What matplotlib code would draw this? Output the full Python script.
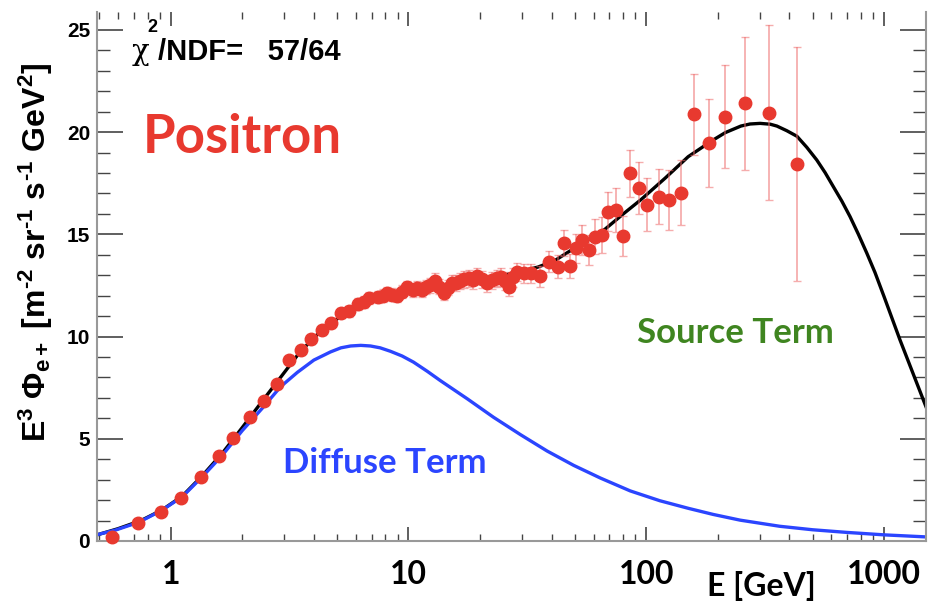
import numpy as np
import matplotlib.pyplot as plt
from matplotlib.ticker import LogLocator, NullFormatter, MultipleLocator

plt.rcParams['font.family'] = ['Liberation Sans', 'DejaVu Sans']
plt.rcParams['mathtext.fontset'] = 'custom'
plt.rcParams['mathtext.rm'] = 'Liberation Sans:bold'
plt.rcParams['mathtext.it'] = 'Liberation Sans:bold'
plt.rcParams['mathtext.bf'] = 'Liberation Sans:bold'

# positron data points (E in GeV, E^3 * flux, error)
pos_E = [0.569, 0.732, 0.91, 1.11, 1.34, 1.59, 1.83, 2.15, 2.48, 2.79,
         3.14, 3.52, 3.90, 4.32, 4.71, 5.18, 5.63, 6.13, 6.5, 6.81,
         7.43, 7.8, 8.14, 8.5, 8.91, 9.4, 9.88, 10.4, 10.9, 11.4,
         11.8, 12.3, 12.9, 13.5, 14.1, 14.7, 15.3, 15.9, 16.5, 17.2,
         17.9, 18.6, 19.4, 20.4, 21.4, 22.5, 23.6, 24.4, 25.4, 26.4,
         27.5, 28.6, 30.5, 32.6, 35.9, 38.8, 42.4, 44.9, 47.6, 50.8,
         53.7, 57.2, 61.0, 65.1, 68.8, 74.8, 79.8, 85.7, 93.6, 101,
         113, 125, 140, 159, 183, 215, 260, 327, 430]
pos_val = [0.18, 0.87, 1.42, 2.09, 3.15, 4.17, 5.02, 6.05, 6.86, 7.66,
           8.85, 9.35, 9.86, 10.32, 10.68, 11.15, 11.25, 11.6, 11.7, 11.9,
           11.92, 12.0, 12.12, 12.05, 11.99, 12.2, 12.41, 12.3, 12.36, 12.3,
           12.41, 12.5, 12.73, 12.45, 12.15, 12.4, 12.64, 12.6, 12.73, 12.8,
           12.85, 12.75, 12.96, 12.8, 12.61, 12.75, 12.85, 12.93, 12.7, 12.45,
           12.9, 13.16, 13.1, 13.09, 12.95, 13.67, 13.42, 14.57, 13.46, 14.32,
           14.72, 14.24, 14.89, 14.97, 16.11, 16.19, 14.92, 17.99, 17.28, 16.46,
           16.85, 16.68, 17.04, 20.88, 19.46, 20.76, 21.42, 20.96, 18.43]
pos_err = [0.05, 0.06, 0.07, 0.08, 0.09, 0.10, 0.11, 0.12, 0.13, 0.14,
           0.16, 0.18, 0.2, 0.22, 0.24, 0.26, 0.27, 0.28, 0.29, 0.3,
           0.3, 0.31, 0.31, 0.32, 0.32, 0.33, 0.33, 0.34, 0.34, 0.35,
           0.35, 0.36, 0.36, 0.37, 0.37, 0.38, 0.38, 0.39, 0.39, 0.4,
           0.4, 0.41, 0.41, 0.42, 0.42, 0.43, 0.43, 0.44, 0.44, 0.45,
           0.45, 0.46, 0.47, 0.48, 0.5, 0.52, 0.55, 0.65, 0.6, 0.7,
           0.72, 0.75, 0.86, 0.86, 0.95, 1.08, 0.96, 1.15, 1.26, 1.3,
           1.35, 1.45, 1.6, 1.98, 2.15, 2.53, 3.26, 4.3, 5.73]

# total fit (diffuse + source)
fit_E = [0.49, 0.6, 0.75, 0.92, 1.12, 1.36, 1.65, 2.0, 2.43, 2.94,
         3.5, 4.3, 5.2, 6.2, 8.0, 10, 15, 20, 25, 30,
         35, 41, 51, 67, 80, 95, 120, 150, 190, 215,
         250, 273, 301, 332, 354, 390, 430, 473, 521, 565,
         612, 664, 719, 780, 846, 916, 1000, 1167, 1500]
fit_val = [0.3, 0.6, 1.0, 1.52, 2.2, 3.2, 4.3, 5.55, 6.85, 8.1,
           9.25, 10.3, 11.0, 11.5, 11.95, 12.2, 12.55, 12.8, 13.0, 13.2,
           13.4, 13.7, 14.4, 15.25, 16.0, 16.7, 17.75, 18.8, 19.6, 19.98,
           20.3, 20.4, 20.43, 20.39, 20.3, 20.07, 19.8, 19.26, 18.64, 18.02,
           17.33, 16.63, 15.87, 15.0, 14.08, 13.13, 11.95, 9.83, 6.57]

# diffuse term
diff_E = [0.484, 0.588, 0.736, 0.923, 1.12, 1.36, 1.65, 2.0, 2.43, 2.9,
          3.41, 4.0, 4.7, 5.2, 5.71, 6.3, 6.92, 7.6, 8.4, 9.4,
          10.5, 12.0, 13.6, 17.7, 22.8, 29.6, 38.3, 49.5, 64.1, 85.6,
          114, 150, 191, 248, 364, 500, 697, 1000, 1500]
diff_val = [0.29, 0.54, 0.92, 1.52, 2.17, 3.15, 4.2, 5.4, 6.5, 7.55,
            8.25, 8.85, 9.25, 9.45, 9.54, 9.57, 9.54, 9.45, 9.28, 9.05,
            8.75, 8.3, 7.85, 6.95, 6.05, 5.2, 4.4, 3.7, 3.08, 2.45,
            1.97, 1.6, 1.3, 1.02, 0.72, 0.55, 0.42, 0.3, 0.2]

red = '#e8392f'
blue = '#2b45ff'
green = '#3f8520'

fig = plt.figure(figsize=(9.31, 6.05), dpi=100)
ax = fig.add_axes([0.1042, 0.1058, 0.8904, 0.8744])

ax.plot(fit_E, fit_val, color='black', lw=2.4, zorder=2)
ax.plot(diff_E, diff_val, color=blue, lw=2.4, zorder=2.5)
eb = ax.errorbar(pos_E, pos_val, yerr=pos_err, fmt='o', ms=9, color=red,
                 ecolor=(0.93, 0.42, 0.42, 0.55), elinewidth=1.3,
                 capsize=3, capthick=1.0, zorder=3)
eb[0].set_clip_on(False)

ax.set_xscale('log')
ax.set_xlim(0.49, 1500)
ax.set_ylim(0, 25.88)

ax.set_xticks([1, 10, 100, 1000], ['1', '10', '100', '1000'],
              fontfamily='Lato', fontweight='bold', fontsize=23)
ax.xaxis.set_minor_locator(LogLocator(base=10, subs=np.arange(2, 10)))
ax.xaxis.set_minor_formatter(NullFormatter())
ax.set_yticks([0, 5, 10, 15, 20, 25], ['0', '5', '10', '15', '20', '25'],
              fontweight='bold', fontsize=15)
ax.yaxis.set_minor_locator(MultipleLocator(1))

ax.tick_params(which='both', direction='in', top=True, right=True, color='#444444')
ax.tick_params(axis='y', which='major', length=19, width=1.2, pad=5)
ax.tick_params(axis='y', which='minor', length=9.5, width=1.0)
ax.tick_params(axis='x', which='major', length=10, width=1.2, pad=14)
ax.tick_params(axis='x', which='minor', length=5, width=1.0)
for s in ['left', 'right', 'bottom']:
    ax.spines[s].set_color('#999999')
    ax.spines[s].set_linewidth(1.5)
ax.spines['top'].set_visible(False)

ax.set_ylabel('E$^{3}$ Φ$_{e+}$ [m$^{‐2}$ sr$^{‐1}$ s$^{‐1}$ GeV$^{2}$]',
              fontsize=23, fontweight='bold')
ax.yaxis.set_label_coords(-0.074, 0.546)
ax.yaxis.label.set_va('center')
ax.set_xlabel('E [GeV]', fontfamily='Lato', fontweight='bold', fontsize=23)
ax.xaxis.set_label_coords(0.801, -0.104)
ax.xaxis.label.set_va('baseline')

ax.text(0.042, 0.909, 'χ', transform=ax.transAxes, fontfamily='DejaVu Serif',
        fontsize=21, va='baseline')
ax.text(0.061, 0.970, '2', transform=ax.transAxes, fontweight='bold',
        fontsize=13, va='center')
ax.text(0.074, 0.909, '/NDF=   57/64', transform=ax.transAxes, fontweight='bold',
        fontsize=21, va='baseline')
ax.text(0.0555, 0.733, 'Positron', transform=ax.transAxes, fontfamily='Lato',
        fontweight='bold', fontsize=38, color=red, va='baseline')
ax.text(0.2244, 0.1285, 'Diffuse Term', transform=ax.transAxes, fontfamily='Lato',
        fontweight='bold', fontsize=25, color=blue, va='baseline')
ax.text(0.651, 0.374, 'Source Term', transform=ax.transAxes, fontfamily='Lato',
        fontweight='bold', fontsize=25, color=green, va='baseline')

fig.savefig('out.png', dpi=100)
